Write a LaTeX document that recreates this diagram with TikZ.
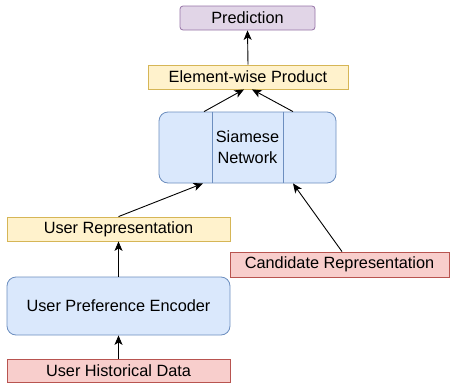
\documentclass[tikz,border=0pt]{standalone}
\usepackage{fontspec}
\setmainfont{Liberation Sans}
\usetikzlibrary{arrows.meta,calc}

\definecolor{bluefill}{HTML}{DAE8FC}
\definecolor{bluedraw}{HTML}{6C8EBF}
\definecolor{yellowfill}{HTML}{FFF2CC}
\definecolor{yellowdraw}{HTML}{D6B656}
\definecolor{redfill}{HTML}{F8CECC}
\definecolor{reddraw}{HTML}{B85450}
\definecolor{purplefill}{HTML}{E1D5E7}
\definecolor{purpledraw}{HTML}{9673A6}

\tikzset{
  box/.style={draw, line width=0.8pt, inner sep=0pt, align=center,
    font=\fontsize{16.3}{21}\selectfont},
  bluebox/.style={box, fill=bluefill, draw=bluedraw, rounded corners=9pt},
  yellowbox/.style={box, fill=yellowfill, draw=yellowdraw},
  redbox/.style={box, fill=redfill, draw=reddraw},
  purplebox/.style={box, fill=purplefill, draw=purpledraw, rounded corners=3pt},
  link/.style={draw=black, line width=0.9pt, -{Stealth[length=9.5pt,width=8pt,inset=2.5pt]}},
}

\begin{document}
\begin{tikzpicture}[x=1pt, y=-1pt]
  \useasboundingbox (0,0) rectangle (450,383);

  % boxes
  \node[purplebox, minimum width=135pt, minimum height=24pt] (pred) at (247.5,18) {Prediction};
  \node[yellowbox, minimum width=200pt, minimum height=24pt] (prod) at (248,77) {Element-wise Product};
  \node[bluebox, minimum width=177pt, minimum height=71pt] (siam) at (247.5,147.5) {};
  \node[yellowbox, minimum width=223pt, minimum height=24pt] (urep) at (118.5,229) {User Representation};
  \node[redbox, minimum width=219pt, minimum height=25pt] (cand) at (339.5,264.5) {Candidate Representation};
  \node[bluebox, minimum width=223pt, minimum height=58pt] (enc) at (118.5,306) {User Preference Encoder};
  \node[redbox, minimum width=223pt, minimum height=23pt] (hist) at (118.5,370.5) {User Historical Data};

  % inner partitions of the siamese block
  \draw[bluedraw, line width=0.8pt] (212,0 |- siam.north) -- (212,0 |- siam.south);
  \draw[bluedraw, line width=0.8pt] (283,0 |- siam.north) -- (283,0 |- siam.south);
  \node[box, draw=none] (siamlabel) at (247.5,147) {Siamese\\Network};

  % connection points
  \coordinate (sL) at (204,0 |- siam.north);
  \coordinate (sR) at (293,0 |- siam.north);
  \coordinate (pL) at (244,0 |- prod.south);
  \coordinate (pR) at (252,0 |- prod.south);
  \coordinate (bL) at (203,0 |- siam.south);
  \coordinate (bR) at (293,0 |- siam.south);
  \coordinate (cT) at (342,0 |- cand.north);

  % connectors
  \draw[link] (hist.north) -- (enc.south);
  \draw[link] (enc.north) -- (urep.south);
  \draw[link] (urep.north) -- (bL);
  \draw[link] (cT) -- (bR);
  \draw[link] (sL) -- (pL);
  \draw[link] (sR) -- (pR);
  \draw[link] (prod.north) -- (pred.south);
\end{tikzpicture}
\end{document}
